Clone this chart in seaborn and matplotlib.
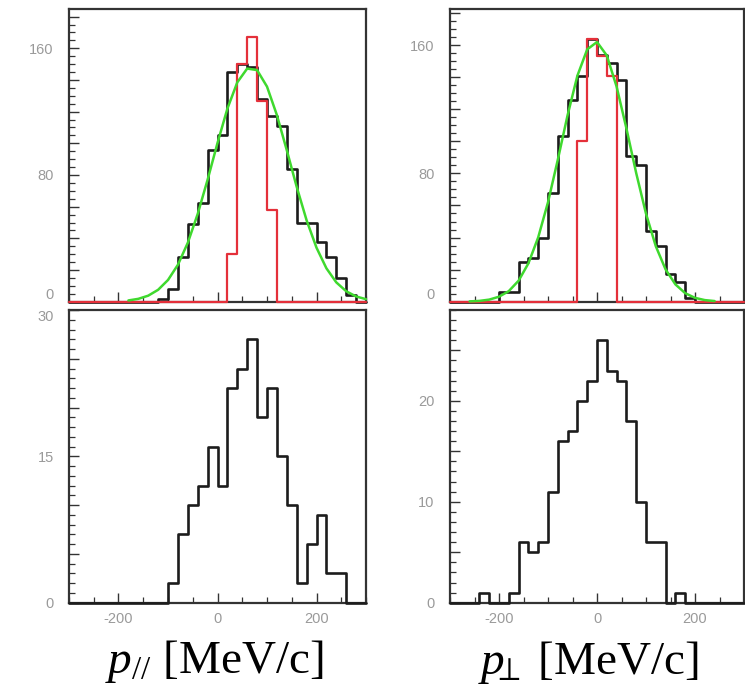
import numpy as np
import pandas as pd
import seaborn as sns
import matplotlib
matplotlib.use("Agg")
import matplotlib.pyplot as plt
from matplotlib.ticker import MultipleLocator, FuncFormatter

# ---------------- data ----------------
bin_edges = list(range(-300, 301, 20))          # 30 bins of 20 MeV/c

# p_parallel, all events (black)
par_all = [0, 0, 0, 0, 0, 0, 0, 0, 0, 2, 8, 28, 49, 62, 96,
           105, 145, 150, 148, 128, 117, 111, 84, 50, 50, 38, 28, 15, 4, 0]
# p_parallel, selected (red)
par_sel = [0, 0, 0, 0, 0, 0, 0, 0, 0, 0, 0, 0, 0, 0, 0,
           0, 30, 150, 167, 127, 58, 0, 0, 0, 0, 0, 0, 0, 0, 0]
# p_parallel, lower panel
par_low = [0, 0, 0, 0, 0, 0, 0, 0, 0, 0, 2, 7, 10, 12, 16,
           12, 22, 24, 27, 19, 22, 15, 10, 2, 6, 9, 3, 3, 0, 0]
# p_parallel gaussian fit (green)
fitL_x = [-180, -160, -140, -120, -100, -80, -60, -40, -20, 0, 20, 40, 60,
          80, 100, 120, 140, 160, 180, 200, 220, 240, 260, 280, 300]
fitL_y = [0.8, 1.8, 3.8, 7.5, 13.7, 23.3, 37.2, 55.4, 77.0, 100.2, 121.9,
          138.5, 147.2, 146.2, 135.8, 117.8, 95.6, 72.5, 51.4, 34.1, 21.1,
          12.2, 6.6, 3.3, 1.6]

# p_perp, all events (black)
perp_all = [0, 0, 0, 0, 0, 6, 6, 25, 27, 40, 68, 103, 126, 141, 164,
            154, 149, 138, 91, 85, 44, 35, 17, 12, 2, 0, 0, 0, 0, 0]
# p_perp, selected (red)
perp_sel = [0, 0, 0, 0, 0, 0, 0, 0, 0, 0, 0, 0, 0, 100, 164,
            153, 141, 0, 0, 0, 0, 0, 0, 0, 0, 0, 0, 0, 0, 0]
# p_perp, lower panel
perp_low = [0, 0, 0, 1, 0, 0, 1, 6, 5, 6, 11, 16, 17, 20, 22,
            26, 23, 22, 18, 10, 6, 6, 0, 1, 0, 0, 0, 0, 0, 0]
# p_perp gaussian fit (green)
fitR_x = [-260, -240, -220, -200, -180, -160, -140, -120, -100, -80, -60,
          -40, -20, 0, 20, 40, 60, 80, 100, 120, 140, 160, 180, 200, 220, 240]
fitR_y = [0.2, 0.5, 1.3, 3.1, 6.6, 13.1, 23.9, 40.1, 62.0, 88.5, 116.3,
          140.9, 157.3, 161.9, 153.5, 134.1, 108.1, 80.2, 54.9, 34.6, 20.1,
          10.8, 5.3, 2.4, 1.0, 0.4]

x_ticks = [-200, 0, 200]
xlabels = [r"$p_{\mathit{//}}$ [MeV/c]", r"$p_{\!\!\!\perp}$ [MeV/c]"]

# ---------------- style ----------------
sns.set_theme(style="white")
plt.rcParams["font.family"] = ["Liberation Sans", "DejaVu Sans"]
plt.rcParams["mathtext.fontset"] = "custom"
plt.rcParams["mathtext.rm"] = "Liberation Serif"
plt.rcParams["mathtext.it"] = "Liberation Serif:italic"
plt.rcParams["axes.unicode_minus"] = False

BLACK = "#1c1c1c"
RED = "#e4303a"
GREEN = "#3fd92e"
SPINE = "#333333"
TICKLAB = "#9a9a9a"

fig = plt.figure(figsize=(7.45, 6.85), dpi=100)
W, H = 745.0, 685.0


def make_ax(x0, x1, y0, y1):
    return fig.add_axes([x0 / W, 1 - y1 / H, (x1 - x0) / W, (y1 - y0) / H])


ax_tl = make_ax(69, 366, 9.3, 301.7)
ax_tr = make_ax(450, 744, 9.3, 301.7)
ax_bl = make_ax(69, 366, 310, 602.7)
ax_br = make_ax(450, 744, 310, 602.7)

centers = [(a + b) / 2 for a, b in zip(bin_edges[:-1], bin_edges[1:])]


def hist(ax, counts, color, lw, z):
    df = pd.DataFrame({"p": centers, "n": counts})
    sns.histplot(data=df, x="p", weights="n", bins=bin_edges, element="step",
                 fill=False, color=color, linewidth=lw, ax=ax,
                 clip_on=False, zorder=z)


def fit(ax, xs, ys):
    df = pd.DataFrame({"p": xs, "f": ys})
    sns.lineplot(data=df, x="p", y="f", color=GREEN, linewidth=1.8, ax=ax,
                 zorder=3.2, clip_on=False)


hist(ax_tl, par_all, BLACK, 1.9, 3.0)
hist(ax_tl, par_sel, RED, 1.6, 3.1)
fit(ax_tl, fitL_x, fitL_y)

hist(ax_tr, perp_all, BLACK, 1.9, 3.0)
hist(ax_tr, perp_sel, RED, 1.6, 3.1)
fit(ax_tr, fitR_x, fitR_y)

hist(ax_bl, par_low, BLACK, 1.9, 3.0)
hist(ax_br, perp_low, BLACK, 1.9, 3.0)


def style(ax, ymax, lab_step, maj_step, min_step, show_x):
    ax.set_xlim(-300, 300)
    ax.set_ylim(0, ymax)
    ax.set_xlabel("")
    ax.set_ylabel("")
    ax.grid(False)
    for s in ax.spines.values():
        s.set_visible(True)
        s.set_color(SPINE)
        s.set_linewidth(1.6)
    ax.set_xticks(x_ticks)
    ax.xaxis.set_minor_locator(MultipleLocator(50))
    ax.yaxis.set_major_locator(MultipleLocator(maj_step))
    ax.yaxis.set_minor_locator(MultipleLocator(min_step))
    ax.yaxis.set_major_formatter(FuncFormatter(
        lambda v, p: f"{v:.0f}" if abs(v / lab_step - round(v / lab_step)) < 1e-6 else ""))
    ax.tick_params(which="both", direction="in", left=True, bottom=True,
                   top=False, right=False, color=SPINE, labelcolor=TICKLAB)
    ax.tick_params(axis="y", which="major", length=7, width=1.0, pad=11,
                   labelsize=10.5)
    ax.tick_params(axis="y", which="minor", length=4, width=0.9)
    ax.tick_params(axis="x", which="major", length=7, width=1.0, pad=7,
                   labelsize=10.5, labelbottom=show_x)
    ax.tick_params(axis="x", which="minor", length=4, width=0.9)
    ax.set_facecolor("white")


style(ax_tl, 184.6, 80, 20, 5, False)
style(ax_tr, 182.3, 80, 20, 5, False)
style(ax_bl, 30.0, 15, 5, 1, True)
style(ax_br, 29.0, 10, 5, 1, True)

fig.text(214 / W, 1 - 673 / H, xlabels[0], ha="center", va="baseline",
         fontsize=34, family="Liberation Serif", color="black")
fig.text(588 / W, 1 - 674 / H, xlabels[1], ha="center", va="baseline",
         fontsize=34, family="Liberation Serif", color="black")

# nudge the limit labels apart, as in the reference
fig.canvas.draw()
for ax in (ax_tl, ax_tr):
    for t in ax.yaxis.get_major_ticks():
        if t.label1.get_text() == "0":
            t.label1.set_va("bottom")
for ax in (ax_bl, ax_br):
    top = ax.get_ylim()[1]
    for t in ax.yaxis.get_major_ticks():
        if abs(t.get_loc() - top) < 1e-6:
            t.label1.set_va("top")

fig.savefig("out.png", dpi=100, facecolor="white")
